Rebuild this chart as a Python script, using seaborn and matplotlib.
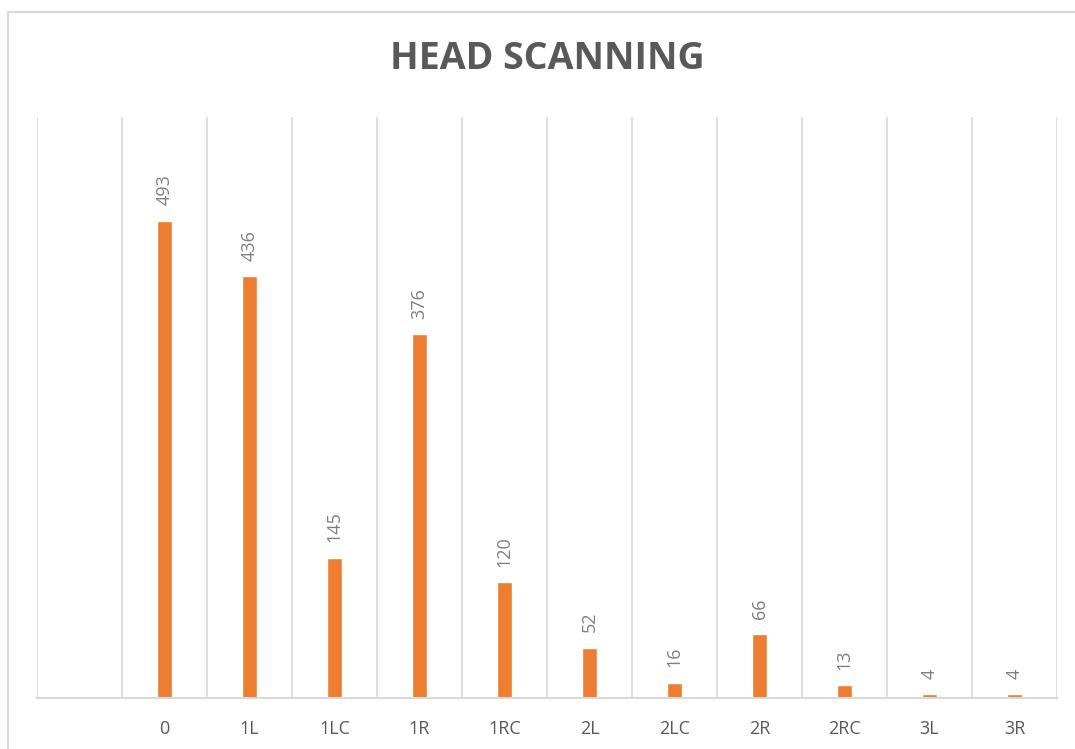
import numpy as np
import pandas as pd
import matplotlib
matplotlib.use("Agg")
import matplotlib.pyplot as plt
import seaborn as sns
from matplotlib.lines import Line2D

# chart data
categories = ["", "0", "1L", "1LC", "1R", "1RC", "2L", "2LC", "2R", "2RC", "3L", "3R"]
bar_labels = ["0", "1L", "1LC", "1R", "1RC", "2L", "2LC", "2R", "2RC", "3L", "3R"]
counts = [493, 436, 145, 376, 120, 52, 16, 66, 13, 4, 4]

sns.set_style("white")
plt.rcParams['font.family'] = ['Open Sans', 'DejaVu Sans']

df = pd.DataFrame({"position": bar_labels, "count": counts})

fig = plt.figure(figsize=(10.75, 7.49), dpi=100)
ax = fig.add_axes([37 / 1075, 51 / 749, 1020 / 1075, 581 / 749])

sns.barplot(data=df, x="position", y="count", order=categories,
            color="#ED7D31", saturation=1, width=0.18, ax=ax)

# value labels, rotated like the original
for bar, val in zip([b for b in ax.patches if not np.isnan(b.get_height())], counts):
    ax.annotate(str(val), xy=(bar.get_x() + bar.get_width() / 2, bar.get_height()),
                xytext=(0, 11), textcoords="offset points", rotation=90,
                ha="center", va="bottom", fontsize=13, color="#7F7F7F")

ax.set_ylim(0, 600)
ax.set_xlim(-0.5, len(categories) - 0.5)
ax.set_yticks([])
ax.set_xlabel("")
ax.set_ylabel("")
ax.set_xticks(np.arange(len(categories)))
ax.set_xticklabels(categories, fontsize=13, color="#595959")
ax.tick_params(axis="x", length=0, pad=16)

# vertical gridlines between categories
ax.set_xticks(np.arange(len(categories) + 1) - 0.5, minor=True)
ax.tick_params(axis="x", which="minor", length=0)
ax.grid(True, which="minor", axis="x", color="#D9D9D9", linewidth=1.2)
ax.grid(False, which="major")
for side in ["top", "left", "right"]:
    ax.spines[side].set_visible(False)
ax.spines["bottom"].set_color("#D9D9D9")
ax.spines["bottom"].set_linewidth(1.5)

fig.text(547 / 1075, 1 - 59 / 749, "HEAD SCANNING", ha="center", va="center",
         fontsize=27, fontweight="bold", color="#595959")

# outer chart frame (only top and left edges are inside the picture)
fx, fy = 8 / 1075, 1 - 12 / 749
fig.lines.append(Line2D([fx, 1], [fy, fy], transform=fig.transFigure,
                        color="#D9D9D9", linewidth=1.5))
fig.lines.append(Line2D([fx, fx], [0, fy], transform=fig.transFigure,
                        color="#D9D9D9", linewidth=1.5))

plt.savefig("out.png", dpi=100)
